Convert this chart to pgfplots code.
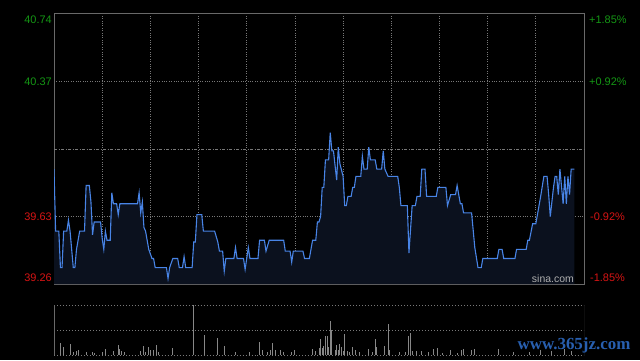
\documentclass[border=0pt]{standalone}
\usepackage{pgfplots}
\pgfplotsset{compat=1.18}
\usepackage{pgfplotstable}
\usepackage{fontspec}
\setmainfont{Liberation Sans}
\newfontfamily\wmfont{Liberation Serif}
\definecolor{framegray}{RGB}{105,105,105}
\definecolor{gridgray}{RGB}{120,120,120}
\definecolor{upgreen}{RGB}{20,150,20}
\definecolor{downred}{RGB}{215,20,20}
\definecolor{linecol}{RGB}{72,132,230}
\definecolor{areafill}{RGB}{11,17,30}
\definecolor{volgray}{RGB}{135,135,135}
\definecolor{sinagray}{RGB}{175,175,175}
\definecolor{wmblue}{RGB}{40,95,175}

\pgfplotstableread{
m p
0 39.89
1 39.55
3 39.55
4 39.35
5 39.35
6 39.55
8 39.55
9 39.61
10 39.55
12 39.35
13 39.35
14 39.45
16 39.55
19 39.55
20 39.80
22 39.80
23 39.71
24 39.53
25 39.60
29 39.60
30 39.51
31 39.45
32 39.55
33 39.50
35 39.50
36 39.76
37 39.70
39 39.70
40 39.64
41 39.70
52 39.70
53 39.76
54 39.65
55 39.71
56 39.57
57 39.55
58 39.50
59 39.45
61 39.40
62 39.40
63 39.35
70 39.35
71 39.29
72 39.35
74 39.40
77 39.40
78 39.35
80 39.35
81 39.41
82 39.35
86 39.35
87 39.49
88 39.49
89 39.64
92 39.64
93 39.55
100 39.55
102 39.49
103 39.44
105 39.44
106 39.33
107 39.40
112 39.40
113 39.46
114 39.40
118 39.40
119 39.34
121 39.46
122 39.40
127 39.40
128 39.50
131 39.50
132 39.44
134 39.50
143 39.50
144 39.44
147 39.44
148 39.38
149 39.44
155 39.44
156 39.40
159 39.40
161 39.50
163 39.50
164 39.60
165 39.60
166 39.63
167 39.79
168 39.79
169 39.94
171 39.94
172 40.09
173 39.99
174 39.99
176 39.83
177 40.01
178 39.92
180 39.85
181 39.69
182 39.69
183 39.74
185 39.74
186 39.79
187 39.79
188 39.85
191 39.85
192 39.96
193 39.89
195 39.89
196 40.01
197 39.94
200 39.94
201 39.89
204 39.89
205 39.99
206 39.89
208 39.85
214 39.85
215 39.79
216 39.69
220 39.69
221 39.43
223 39.69
225 39.69
226 39.74
228 39.74
229 39.89
231 39.89
232 39.74
238 39.74
239 39.79
244 39.79
245 39.69
247 39.75
250 39.75
251 39.80
253 39.70
254 39.70
255 39.65
260 39.65
262 39.46
264 39.35
266 39.35
267 39.40
276 39.40
277 39.45
279 39.45
280 39.40
287 39.40
288 39.45
294 39.45
295 39.50
296 39.50
298 39.59
300 39.59
303 39.74
305 39.85
307 39.85
308 39.75
309 39.63
311 39.79
312 39.85
313 39.85
314 39.75
315 39.89
317 39.70
318 39.85
319 39.70
320 39.85
321 39.75
322 39.89
324 39.89
}\price

\pgfplotstableread{
m v
4 12
6 8
10 11
12 3
14 4
15 5
20 3
24 3
25 2
30 3
32 6
37 4
40 10
41 6
42 4
44 3
54 4
56 9
57 3
59 8
60 5
62 5
64 10
65 3
74 7
87 60
94 20
102 17
106 9
113 3
122 3
128 13
130 5
133 3
135 5
136 12
138 5
141 5
143 3
148 3
150 5
161 6
163 4
165 7
166 16
167 7
168 9
169 19
170 19
171 8
172 34
173 25
175 5
176 10
177 5
178 11
179 8
180 4
181 21
183 4
184 3
186 8
188 5
190 3
196 6
198 3
200 16
201 8
206 9
208 31
209 5
215 3
219 3
221 19
222 22
223 4
226 4
229 4
233 3
236 6
239 7
242 2
247 5
251 2
254 5
255 6
260 5
262 6
277 6
286 3
296 3
303 5
310 4
318 6
322 4
}\volume

\begin{document}
\begin{tikzpicture}[x=1bp,y=1bp]
\fill[black] (0,0) rectangle (640,360);

\begin{axis}[
  at={(54bp,76bp)}, anchor=south west,
  width=530bp, height=270bp, scale only axis,
  xmin=0, xmax=330, ymin=39.26, ymax=40.74,
  xtick={30,60,...,300}, ytick={39.63,40.37},
  xticklabels={}, yticklabels={},
  tick style={draw=none},
  grid=major,
  major grid style={gridgray, dotted, line width=0.8bp},
  extra y ticks={40}, extra y tick labels={},
  extra y tick style={grid=major, major grid style={gridgray, line width=0.8bp, dash pattern=on 3bp off 1.5bp on 1bp off 1.5bp}},
  axis line style={framegray, line width=1bp},
]
\addplot[draw=none, fill=areafill] table[x=m,y=p]{\price} \closedcycle;
\addplot[linecol, line width=1.1bp, mark=none] table[x=m,y=p]{\price};
\end{axis}

\begin{axis}[
  at={(54bp,5bp)}, anchor=south west,
  width=530bp, height=50bp, scale only axis,
  xmin=0, xmax=330, ymin=0, ymax=50,
  hide axis,
]
\addplot[ycomb, volgray, line width=1bp, mark=none] table[x=m,y=v]{\volume};
\draw[gridgray, dotted, line width=1bp] (rel axis cs:0,1) -- (rel axis cs:1,1);
\draw[gridgray, dotted, line width=1bp] (rel axis cs:0,0.5) -- (rel axis cs:1,0.5);
\draw[gridgray, dotted, line width=1bp] (rel axis cs:0,0) -- (rel axis cs:1,0);
\draw[framegray, line width=1bp] (rel axis cs:0,0) -- (rel axis cs:0,1);
\draw[framegray, line width=1bp] (rel axis cs:1,0) -- (rel axis cs:1,1);
\end{axis}

\begin{scope}[every node/.style={inner sep=0pt, font=\fontsize{11}{13}\selectfont}]
\node[anchor=east, text=upgreen] at (52,340) {40.74};
\node[anchor=east, text=upgreen] at (52,278) {40.37};
\node[anchor=east, text=downred] at (52,143) {39.63};
\node[anchor=east, text=downred] at (52,82) {39.26};
\node[anchor=west, text=upgreen] at (589,340) {+1.85\%};
\node[anchor=west, text=upgreen] at (589,278) {+0.92\%};
\node[anchor=west, text=downred] at (590,143) {-0.92\%};
\node[anchor=west, text=downred] at (590,82) {-1.85\%};
\node[anchor=east, text=sinagray, font=\fontsize{10.5}{12}\selectfont] at (574,81) {sina.com};
\node[text=wmblue, font=\wmfont\bfseries\fontsize{17}{19}\selectfont] at (574,15) {www.365jz.com};
\end{scope}
\end{tikzpicture}
\end{document}
